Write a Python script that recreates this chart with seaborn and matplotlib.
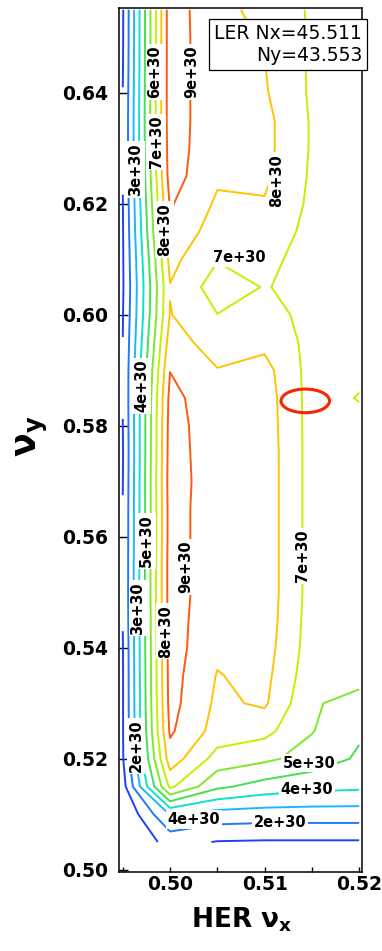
import numpy as np
import matplotlib
matplotlib.use("Agg")
import matplotlib.pyplot as plt
from matplotlib.patches import Ellipse
import seaborn as sns

# ---------------- data (luminosity in units of 1e30) ----------------
her_nux = [0.495, 0.500, 0.505, 0.510, 0.515, 0.520]
her_nuy = [0.505, 0.510, 0.515, 0.520, 0.525, 0.530, 0.535, 0.540, 0.545, 0.550,
           0.555, 0.560, 0.565, 0.570, 0.575, 0.580, 0.585, 0.590, 0.595, 0.600,
           0.605, 0.610, 0.615, 0.620, 0.625, 0.630, 0.635, 0.640, 0.645, 0.650, 0.655]

lum_x0495 = [0.00, 0.00, 0.60, 0.92, 0.95, 0.95, 0.95, 0.97, 1.02, 1.05,
             1.04, 1.03, 1.02, 0.98, 0.95, 0.99, 1.03, 1.05, 1.01, 0.96,
             0.90, 0.92, 0.95, 0.98, 1.04, 1.06, 1.05, 1.01, 0.96, 0.93, 0.92]
lum_x0500 = [1.35, 3.06, 7.20, 8.55, 9.15, 9.35, 9.40, 9.45, 9.45, 9.50,
             9.50, 9.45, 9.45, 9.50, 9.45, 9.40, 9.30, 8.98, 8.50, 8.05,
             7.95, 8.30, 8.80, 9.10, 9.45, 9.55, 9.60, 9.60, 9.60, 9.60, 9.60]
lum_x0505 = [0.95, 2.60, 5.20, 6.60, 7.60, 7.80, 7.95, 8.20, 8.30, 8.35,
             8.40, 8.40, 8.40, 8.40, 8.40, 8.40, 8.35, 8.05, 7.50, 7.02,
             6.50, 7.05, 7.50, 7.85, 8.15, 8.20, 8.20, 8.20, 8.20, 8.20, 8.15]
lum_x0510 = [0.90, 2.50, 4.60, 6.20, 7.30, 8.15, 8.30, 8.45, 8.55, 8.60,
             8.60, 8.60, 8.60, 8.60, 8.60, 8.55, 8.50, 8.35, 7.75, 7.30,
             7.05, 7.20, 7.50, 7.92, 8.20, 8.30, 8.30, 8.10, 8.02, 7.95, 7.85]
lum_x0515 = [0.90, 2.50, 4.30, 5.60, 6.05, 6.08, 6.35, 6.50, 6.55, 6.60,
             6.60, 6.60, 6.60, 6.60, 6.60, 6.60, 6.60, 6.60, 6.70, 6.75,
             6.70, 6.70, 6.75, 6.80, 6.85, 6.90, 6.90, 6.85, 6.85, 6.85, 6.85]
lum_x0520 = [0.90, 2.50, 4.20, 4.85, 5.15, 5.75, 6.25, 6.40, 6.45, 6.50,
             6.50, 6.50, 6.50, 6.50, 6.55, 6.70, 7.05, 6.80, 6.60, 6.60,
             6.55, 6.50, 6.50, 6.55, 6.60, 6.60, 6.60, 6.60, 6.60, 6.60, 6.60]

contour_levels = [1, 2, 3, 4, 5, 6, 7, 8, 9]

# contour labels: level and where they sit
label_levels = [6, 9, 7, 3, 8, 8, 7, 4, 5, 9, 7, 3, 8, 2, 5, 4, 4, 2]
label_x = [0.4984, 0.5023, 0.4986, 0.4964, 0.4994, 0.5113, 0.5073, 0.4970, 0.4975,
           0.5017, 0.5140, 0.4966, 0.4995, 0.4964, 0.5147, 0.5145, 0.5025, 0.5116]
label_y = [0.6438, 0.6438, 0.6312, 0.6262, 0.6154, 0.6242, 0.6103, 0.5872, 0.5593,
           0.5546, 0.5566, 0.5471, 0.5430, 0.5223, 0.5192, 0.5145, 0.5091, 0.5085]
label_rot = [90, 90, 90, 90, 90, 90, 0, 90, 90, 90, 90, 90, 90, 90, 0, 0, 0, 0]

# ---------------- style ----------------
sns.set_theme(style="white")
plt.rcParams["font.family"] = ["DejaVu Sans"]
plt.rcParams["mathtext.fontset"] = "custom"
plt.rcParams["mathtext.bf"] = "DejaVu Sans:bold"
plt.rcParams["mathtext.rm"] = "DejaVu Sans"
plt.rcParams["mathtext.it"] = "DejaVu Sans:italic"
for key in ["text.color", "axes.labelcolor", "xtick.color", "ytick.color", "axes.edgecolor"]:
    plt.rcParams[key] = "black"

level_colors = ['#1f3fff', '#1f78ff', '#22b4ff', '#10e0c8', '#44e050',
                '#7ee82a', '#c4f000', '#ffc400', '#ff5a10']

fig = plt.figure(figsize=(3.82, 9.51), dpi=100)
ax = fig.add_axes([119 / 382, 1 - 872 / 951, (362 - 119) / 382, (872 - 8) / 951])

X, Y = np.meshgrid(np.array(her_nux), np.array(her_nuy))
Z = np.column_stack([lum_x0495, lum_x0500, lum_x0505, lum_x0510, lum_x0515, lum_x0520])

cs = ax.contour(X, Y, Z, levels=contour_levels, colors=level_colors, linewidths=1.4)

fmt = lambda v: f"{int(round(v))}e+30"
for lev, lx, ly, rot in zip(label_levels, label_x, label_y, label_rot):
    txts = ax.clabel(cs, manual=[(lx, ly)], inline=False,
                     fmt=fmt, fontsize=10.5, colors='black')
    t = txts[-1]
    t.set_text(fmt(lev))
    t.set_position((lx, ly))
    t.set_rotation(rot)
    t.set_fontweight('bold')
    t.set_color('black')
    t.set_bbox(dict(boxstyle='square,pad=0.12', fc='white', ec='none'))

ell = Ellipse((0.5143, 0.5845), width=0.00513, height=0.00426, fill=False,
              ec='#ff2200', lw=2.2, zorder=6)
ax.add_patch(ell)

ax.set_xlim(0.4946, 0.5203)
ax.set_ylim(0.4996, 0.6553)

ax.set_xticks([0.50, 0.51, 0.52])
ax.set_xticklabels(["0.50", "0.51", "0.52"])
ax.set_xticks([0.495, 0.505, 0.515], minor=True)
yt = [0.50, 0.52, 0.54, 0.56, 0.58, 0.60, 0.62, 0.64]
ax.set_yticks(yt)
ax.set_yticklabels([f"{v:.2f}" for v in yt])

ax.tick_params(axis='x', which='both', direction='in', length=3.4, width=1.0,
               labelsize=13.5, pad=2.5, bottom=True, top=False,
               color='black', labelcolor='black')
ax.tick_params(axis='y', which='both', direction='in', length=6.5, width=1.0,
               labelsize=13.5, pad=7.5, left=True, right=False,
               color='black', labelcolor='black')
for lbl in ax.get_xticklabels() + ax.get_yticklabels():
    lbl.set_fontweight('bold')

for sp in ax.spines.values():
    sp.set_visible(True)
    sp.set_color('black')
    sp.set_linewidth(1.1)

fig.text(362 / 382, 1 - 24 / 951, "LER Nx=45.511\nNy=43.553", ha='right', va='top',
         fontsize=13.5, color='black', linespacing=1.2,
         bbox=dict(boxstyle='square,pad=0.25', fc='white', ec='black', lw=0.9))

fig.text(242 / 382, 1 - 928 / 951, r"HER $\mathbf{\nu_x}$", ha='center', va='baseline',
         fontsize=19, fontweight='bold', color='black')
fig.text(37 / 382, 1 - 457 / 951, r"$\mathbf{\nu_y}$", rotation=90, rotation_mode='anchor',
         ha='left', va='baseline', fontsize=25, fontweight='bold', color='black')

fig.savefig("out.png", dpi=100)
